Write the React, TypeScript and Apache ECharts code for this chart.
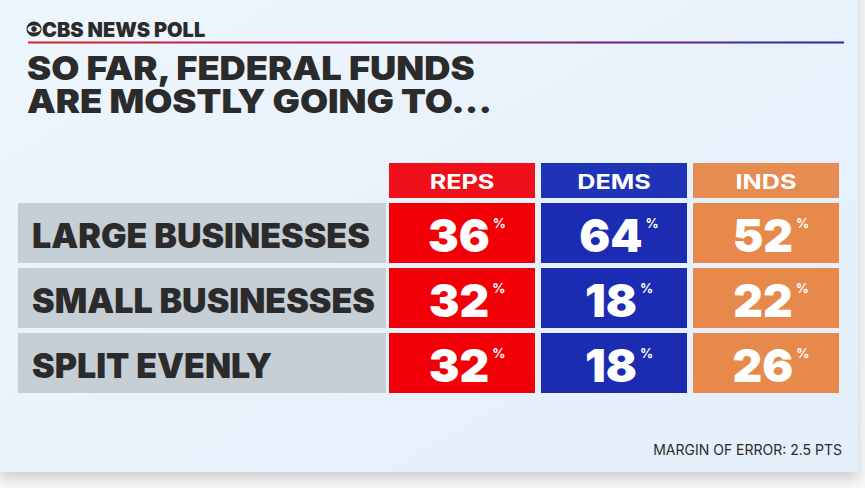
import React, { useEffect, useRef } from 'react';
import * as echarts from 'echarts';

const brand = 'CBS NEWS POLL';
const titleLines = ['SO FAR, FEDERAL FUNDS', 'ARE MOSTLY GOING TO...'];
const columns = ['REPS', 'DEMS', 'INDS'];
const rows = ['LARGE BUSINESSES', 'SMALL BUSINESSES', 'SPLIT EVENLY'];
const reps = [36, 32, 32];
const dems = [64, 18, 18];
const inds = [52, 22, 26];
const note = 'MARGIN OF ERROR: 2.5 PTS';

const COL_COLORS = ['#f20008', '#1b2cb3', '#e6894b'];
const HEAD_COLORS = ['#f0101a', '#1f33b7', '#e68c52'];
const DARK = '#2b2b2b';
const FONT = 'Inter, "Noto Sans", sans-serif';

export default function App() {
  const ref = useRef<HTMLDivElement>(null);

  useEffect(() => {
    if (!ref.current) return;
    const chart = echarts.init(ref.current, undefined, { renderer: 'svg' });

    const cellData: number[][] = [];
    rows.forEach((_, r) => {
      [reps[r], dems[r], inds[r]].forEach((v, c) => cellData.push([c, r, v]));
    });
    const headData = columns.map((_, c) => [c, 0]);
    const rowData = rows.map((_, r) => [0, r]);

    const option: any = {
      animation: false,
      backgroundColor: 'transparent',
      grid: { left: 386, top: 200.5, width: 456, height: 195 },
      xAxis: { type: 'category', data: columns, show: false },
      yAxis: { type: 'category', data: rows, inverse: true, show: false },
      graphic: [
        {
          type: 'rect',
          z: 0,
          shape: { x: 0, y: -20, width: 858, height: 492 },
          style: {
            fill: new echarts.graphic.LinearGradient(0, 0, 1, 1, [
              { offset: 0, color: '#eef6fd' },
              { offset: 1, color: '#e3eef9' },
            ]),
            shadowBlur: 14,
            shadowOffsetY: 6,
            shadowColor: 'rgba(0,0,0,0.18)',
          },
        },
        { type: 'circle', z: 10, shape: { cx: 34, cy: 29, r: 7.5 }, style: { fill: DARK } },
        { type: 'ellipse', z: 11, shape: { cx: 34, cy: 29, rx: 6.6, ry: 3.6 }, style: { fill: '#eef6fd' } },
        { type: 'circle', z: 12, shape: { cx: 34, cy: 29, r: 2.8 }, style: { fill: DARK } },
        {
          type: 'text',
          z: 10,
          x: 42,
          y: 29.5,
          style: { text: brand, fill: DARK, font: `900 20px ${FONT}`, verticalAlign: 'middle', align: 'left' },
        },
        {
          type: 'rect',
          z: 10,
          shape: { x: 28, y: 41.5, width: 816, height: 2 },
          style: {
            fill: new echarts.graphic.LinearGradient(0, 0, 1, 0, [
              { offset: 0, color: '#d8222c' },
              { offset: 0.5, color: '#a0205a' },
              { offset: 1, color: '#2a2aa8' },
            ]),
          },
        },
        {
          type: 'text',
          z: 10,
          x: 27,
          y: 84,
          scaleX: 1.1,
          style: {
            text: titleLines.join('\n'),
            fill: DARK,
            font: `900 33px ${FONT}`,
            lineHeight: 33,
            verticalAlign: 'middle',
            align: 'left',
          },
        },
        {
          type: 'text',
          z: 10,
          x: 842,
          y: 449,
          style: { text: note, fill: DARK, font: `400 14px ${FONT}`, verticalAlign: 'middle', align: 'right' },
        },
      ],
      series: [
        {
          type: 'custom',
          name: 'headers',
          data: headData,
          renderItem: (params: any, api: any) => {
            const c = api.value(0);
            const p = api.coord([c, 0]);
            const s = api.size([1, 1]);
            const w = s[0] - 6;
            const top = params.coordSys.y - 37.5;
            return {
              type: 'group',
              children: [
                { type: 'rect', shape: { x: p[0] - w / 2, y: top, width: w, height: 35 }, style: { fill: HEAD_COLORS[c] } },
                {
                  type: 'text',
                  x: p[0],
                  y: top + 18.5,
                  scaleX: 1.26,
                  style: {
                    text: columns[c],
                    fill: '#ffffff',
                    font: `700 20px ${FONT}`,
                    align: 'center',
                    verticalAlign: 'middle',
                  },
                },
              ],
            };
          },
        },
        {
          type: 'custom',
          name: 'rows',
          data: rowData,
          renderItem: (params: any, api: any) => {
            const r = api.value(1);
            const p = api.coord([0, r]);
            const s = api.size([1, 1]);
            const h = s[1] - 5;
            const left = 18;
            const right = params.coordSys.x;
            return {
              type: 'group',
              children: [
                { type: 'rect', shape: { x: left, y: p[1] - h / 2, width: right - left, height: h }, style: { fill: '#c6ced6' } },
                {
                  type: 'text',
                  x: 32,
                  y: p[1] + 2,
                  style: {
                    text: rows[r],
                    fill: DARK,
                    font: `900 34px ${FONT}`,
                    align: 'left',
                    verticalAlign: 'middle',
                  },
                },
              ],
            };
          },
        },
        {
          type: 'custom',
          name: 'cells',
          data: cellData,
          renderItem: (params: any, api: any) => {
            const c = api.value(0);
            const r = api.value(1);
            const v = api.value(2);
            const p = api.coord([c, r]);
            const s = api.size([1, 1]);
            const w = s[0] - 6;
            const h = s[1] - 5;
            return {
              type: 'group',
              children: [
                { type: 'rect', shape: { x: p[0] - w / 2, y: p[1] - h / 2, width: w, height: h }, style: { fill: COL_COLORS[c] } },
                {
                  type: 'text',
                  x: p[0] + 5,
                  y: p[1] + 2,
                  style: {
                    text: `{n|${v}}{p|%}`,
                    fill: '#ffffff',
                    align: 'center',
                    verticalAlign: 'middle',
                    rich: {
                      n: { fontSize: 46, fontWeight: 900, fontFamily: FONT, fill: '#ffffff', lineHeight: 48 },
                      p: {
                        fontSize: 13,
                        fontWeight: 700,
                        fontFamily: FONT,
                        fill: '#ffffff',
                        lineHeight: 13,
                        verticalAlign: 'top',
                        padding: [5, 0, 0, 3],
                      },
                    },
                  },
                },
              ],
            };
          },
        },
      ],
    };

    chart.setOption(option);
    return () => chart.dispose();
  }, []);

  return (
    <div
      ref={ref}
      style={{ position: 'absolute', left: 0, top: 0, width: 865, height: 488, background: '#f7f8f9' }}
    />
  );
}
